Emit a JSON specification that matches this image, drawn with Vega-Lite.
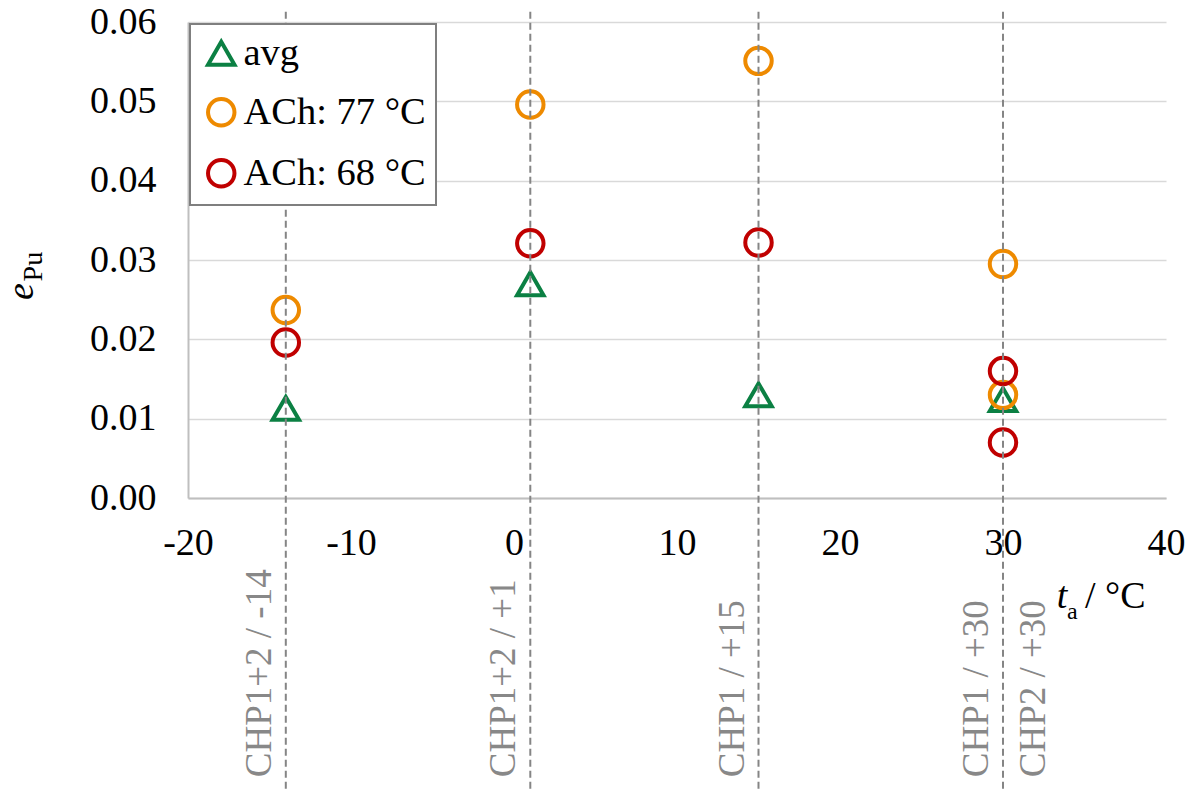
{
  "$schema": "https://vega.github.io/schema/vega-lite/v6.json",
  "autosize": {"type": "none"},
  "padding": {"left": 188, "top": 22, "right": 21, "bottom": 293},
  "width": 978,
  "height": 476,
  "background": "white",
  "config": {
    "view": {"stroke": null},
    "font": "Liberation Serif",
    "legend": {
      "orient": "none",
      "legendX": 2,
      "legendY": 2,
      "padding": 10,
      "strokeColor": "#7f7f7f",
      "strokeWidth": 2,
      "fillColor": "white",
      "labelFont": "Liberation Serif",
      "labelFontSize": 38.5,
      "labelColor": "black",
      "labelLimit": 0,
      "labelOffset": 3,
      "symbolOffset": 2,
      "symbolSize": 700,
      "symbolStrokeWidth": 4,
      "rowPadding": 18,
      "title": null
    }
  },
  "datasets": {
    "points": [
      {"t": -14, "e": 0.0113, "series": "avg"},
      {"t": 1, "e": 0.0270, "series": "avg"},
      {"t": 15, "e": 0.0130, "series": "avg"},
      {"t": 30, "e": 0.0124, "series": "avg"},
      {"t": -14, "e": 0.0237, "series": "ACh: 77 °C"},
      {"t": 1, "e": 0.0496, "series": "ACh: 77 °C"},
      {"t": 15, "e": 0.0551, "series": "ACh: 77 °C"},
      {"t": 30, "e": 0.0295, "series": "ACh: 77 °C"},
      {"t": 30, "e": 0.0130, "series": "ACh: 77 °C"},
      {"t": -14, "e": 0.0196, "series": "ACh: 68 °C"},
      {"t": 1, "e": 0.0321, "series": "ACh: 68 °C"},
      {"t": 15, "e": 0.0322, "series": "ACh: 68 °C"},
      {"t": 30, "e": 0.0160, "series": "ACh: 68 °C"},
      {"t": 30, "e": 0.0070, "series": "ACh: 68 °C"}
    ],
    "cases": [
      {"t": -14, "label": "CHP1+2 / -14", "side": "left"},
      {"t": 1, "label": "CHP1+2 / +1", "side": "left"},
      {"t": 15, "label": "CHP1 / +15", "side": "left"},
      {"t": 30, "label": "CHP1 / +30", "side": "left"},
      {"t": 30, "label": "CHP2 / +30", "side": "right"}
    ],
    "one": [{}]
  },
  "layer": [
    {
      "data": {"name": "points"},
      "mark": {"type": "point", "filled": false, "strokeWidth": 4, "size": 700, "opacity": 1},
      "encoding": {
        "x": {
          "field": "t", "type": "quantitative",
          "scale": {"domain": [-20, 40], "nice": false, "zero": false},
          "axis": {
            "title": null, "values": [-20, -10, 0, 10, 20, 30, 40],
            "labelExpr": "'' + datum.value",
            "labelFont": "Liberation Serif", "labelFontSize": 38, "labelColor": "black",
            "ticks": false, "labelPadding": 26, "grid": false,
            "domainColor": "#bfbfbf", "domainWidth": 2, "labelFlush": false, "labelOverlap": false
          }
        },
        "y": {
          "field": "e", "type": "quantitative",
          "scale": {"domain": [0, 0.06], "nice": false},
          "axis": {
            "title": null, "values": [0, 0.01, 0.02, 0.03, 0.04, 0.05, 0.06],
            "format": ".2f",
            "labelFont": "Liberation Serif", "labelFontSize": 38, "labelColor": "black",
            "ticks": false, "labelPadding": 32, "grid": true,
            "gridColor": "#d9d9d9", "gridWidth": 1.5,
            "domainColor": "#bfbfbf", "domainWidth": 2, "labelFlush": false, "labelOverlap": false
          }
        },
        "color": {
          "field": "series", "type": "nominal",
          "scale": {"domain": ["avg", "ACh: 77 °C", "ACh: 68 °C"], "range": ["#0B8043", "#EE8A00", "#C00000"]},
          "legend": {"title": null}
        },
        "shape": {
          "field": "series", "type": "nominal",
          "scale": {"domain": ["avg", "ACh: 77 °C", "ACh: 68 °C"], "range": ["triangle-up", "circle", "circle"]},
          "legend": {"title": null}
        },
        "order": {"field": "series", "sort": "descending"}
      }
    },
    {
      "data": {"name": "cases"},
      "transform": [{"filter": "datum.side === 'left'"}],
      "mark": {"type": "rule", "color": "#858585", "strokeWidth": 2, "strokeDash": [7, 4]},
      "encoding": {
        "x": {"field": "t", "type": "quantitative"},
        "y": {"datum": 0.0613},
        "y2": {"datum": -0.0370}
      }
    },
    {
      "data": {"name": "cases"},
      "transform": [{"filter": "datum.side === 'left'"}],
      "mark": {"type": "text", "angle": 270, "align": "left", "baseline": "alphabetic", "dy": -15, "fontSize": 37, "color": "#888888", "font": "Liberation Serif"},
      "encoding": {
        "x": {"field": "t", "type": "quantitative"},
        "y": {"datum": -0.0352},
        "text": {"field": "label"}
      }
    },
    {
      "data": {"name": "cases"},
      "transform": [{"filter": "datum.side === 'right'"}],
      "mark": {"type": "text", "angle": 270, "align": "left", "baseline": "alphabetic", "dy": 42, "fontSize": 37, "color": "#888888", "font": "Liberation Serif"},
      "encoding": {
        "x": {"field": "t", "type": "quantitative"},
        "y": {"datum": -0.0352},
        "text": {"field": "label"}
      }
    },
    {
      "data": {"name": "one"},
      "mark": {"type": "text", "text": "t", "fontStyle": "italic", "fontSize": 38, "align": "left", "baseline": "alphabetic", "color": "black", "font": "Liberation Serif"},
      "encoding": {"x": {"datum": 33.3}, "y": {"datum": -0.01387}}
    },
    {
      "data": {"name": "one"},
      "mark": {"type": "text", "text": "a", "fontSize": 24, "align": "left", "baseline": "alphabetic", "color": "black", "font": "Liberation Serif"},
      "encoding": {"x": {"datum": 33.93}, "y": {"datum": -0.01525}}
    },
    {
      "data": {"name": "one"},
      "mark": {"type": "text", "text": "/ °C", "fontSize": 38, "align": "left", "baseline": "alphabetic", "color": "black", "font": "Liberation Serif"},
      "encoding": {"x": {"datum": 35.03}, "y": {"datum": -0.01387}}
    },
    {
      "data": {"name": "one"},
      "mark": {"type": "text", "text": "e", "fontStyle": "italic", "fontSize": 38, "angle": 270, "align": "left", "baseline": "alphabetic", "color": "black", "font": "Liberation Serif"},
      "encoding": {"x": {"datum": -29.51}, "y": {"datum": 0.02496}}
    },
    {
      "data": {"name": "one"},
      "mark": {"type": "text", "text": "Pu", "fontSize": 28, "angle": 270, "align": "left", "baseline": "alphabetic", "color": "black", "font": "Liberation Serif"},
      "encoding": {"x": {"datum": -28.96}, "y": {"datum": 0.0273}}
    }
  ]
}
